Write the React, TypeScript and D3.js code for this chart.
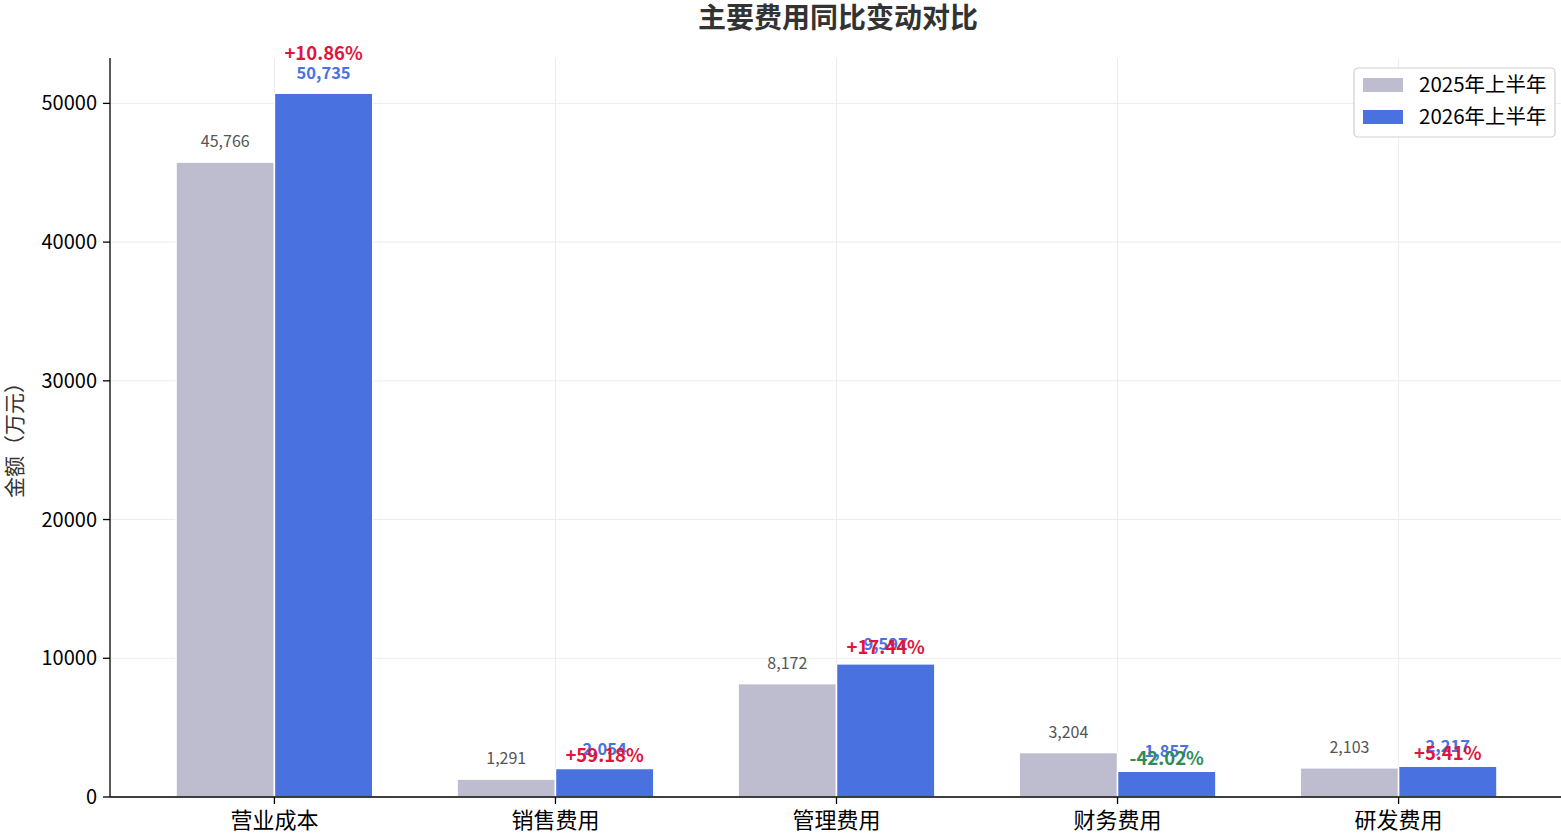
import * as d3 from 'd3';

const categories = ['营业成本', '销售费用', '管理费用', '财务费用', '研发费用'];
const values2025 = [45766, 1291, 8172, 3204, 2103];
const values2026 = [50735, 2054, 9597, 1857, 2217];
const changes = [10.86, 59.18, 17.44, -42.02, 5.41];
const yTicks = [0, 10000, 20000, 30000, 40000, 50000];
const seriesNames = ['2025年上半年', '2026年上半年'];

const W = 1561;
const H = 839;
const FONT = '"Noto Sans CJK SC", "Noto Sans", sans-serif';
const BAR = 0.35;
const C25 = '#bdbdcf';
const C26 = '#4a71e0';

const App = () => {
  const left = 110;
  const right = 1563;
  const top = 58;
  const bottom = 797;

  // matplotlib style 5% margins around the bars
  const span = categories.length - 1 + 2 * BAR;
  const pad = span * 0.05;
  const x = d3
    .scaleLinear()
    .domain([-BAR - pad, categories.length - 1 + BAR + pad])
    .range([left, right]);

  const ymax = (d3.max(values2026.concat(values2025)) as number) * 1.05;
  const y = d3.scaleLinear().domain([0, ymax]).range([bottom, top]);

  const fmt = d3.format(',');

  return (
    <svg
      width={W}
      height={H}
      style={{ position: 'absolute', left: 0, top: 0, fontFamily: FONT }}
    >
      <rect width={W} height={H} fill='#fff' />
      <text
        x={838}
        y={28}
        textAnchor='middle'
        fontSize={28}
        fontWeight='bold'
        fill='#333'
      >
        主要费用同比变动对比
      </text>

      {/* grid */}
      {yTicks.map((t) => (
        <line key={'gy' + t} x1={left} x2={W} y1={y(t)} y2={y(t)} stroke='#ececec' />
      ))}
      {categories.map((c, i) => (
        <line key={'gx' + c} x1={x(i)} x2={x(i)} y1={top} y2={bottom} stroke='#ececec' />
      ))}

      {/* bars */}
      {categories.map((c, i) => (
        <g key={c}>
          <rect
            x={x(i - BAR)}
            y={y(values2025[i])}
            width={x(i) - x(i - BAR)}
            height={bottom - y(values2025[i])}
            fill={C25}
            stroke='#fff'
            strokeWidth={1.5}
          />
          <rect
            x={x(i)}
            y={y(values2026[i])}
            width={x(i + BAR) - x(i)}
            height={bottom - y(values2026[i])}
            fill={C26}
            stroke='#fff'
            strokeWidth={1.5}
          />
          <text
            x={x(i - BAR / 2)}
            y={y(values2025[i]) - 15}
            textAnchor='middle'
            fontSize={16}
            fill='#555'
          >
            {fmt(values2025[i])}
          </text>
          <text
            x={x(i + BAR / 2)}
            y={y(values2026[i]) - 14}
            textAnchor='middle'
            fontSize={16.5}
            fontWeight='bold'
            fill={C26}
          >
            {fmt(values2026[i])}
          </text>
          <text
            x={x(i + BAR / 2)}
            y={y(values2026[i] * 1.04) - 5}
            textAnchor='middle'
            fontSize={18.5}
            fontWeight='bold'
            fill={changes[i] >= 0 ? '#e0143c' : '#2e8b57'}
          >
            {(changes[i] >= 0 ? '+' : '') + changes[i].toFixed(2) + '%'}
          </text>
        </g>
      ))}

      {/* axes */}
      <line x1={left} x2={left} y1={top} y2={bottom} stroke='#000' strokeWidth={1.3} />
      <line x1={left} x2={W} y1={bottom} y2={bottom} stroke='#000' strokeWidth={1.3} />
      {yTicks.map((t) => (
        <g key={'ty' + t}>
          <line x1={left - 7} x2={left} y1={y(t)} y2={y(t)} stroke='#000' strokeWidth={1.3} />
          <text
            x={left - 13}
            y={y(t)}
            dy='0.35em'
            textAnchor='end'
            fontSize={20}
            fill='#000'
          >
            {t}
          </text>
        </g>
      ))}
      {categories.map((c, i) => (
        <g key={'tx' + c}>
          <line x1={x(i)} x2={x(i)} y1={bottom} y2={bottom + 7} stroke='#000' strokeWidth={1.3} />
          <text x={x(i)} y={bottom + 31} textAnchor='middle' fontSize={22} fill='#000'>
            {c}
          </text>
        </g>
      ))}
      <text
        transform='translate(22, 435) rotate(-90)'
        textAnchor='middle'
        fontSize={21}
        fill='#333'
      >
        金额（万元）
      </text>

      {/* legend */}
      <g transform='translate(1354, 68)'>
        <rect width={201} height={69} rx={4} fill='#fff' stroke='#d0d0d0' strokeWidth={1.2} />
        {seriesNames.map((s, i) => (
          <g key={s} transform={`translate(0, ${i * 32})`}>
            <rect x={9} y={10} width={40} height={14} fill={i === 0 ? C25 : C26} />
            <text x={65} y={17} dy='0.35em' fontSize={20.5} fill='#000'>
              {s}
            </text>
          </g>
        ))}
      </g>
    </svg>
  );
};

export default App;
